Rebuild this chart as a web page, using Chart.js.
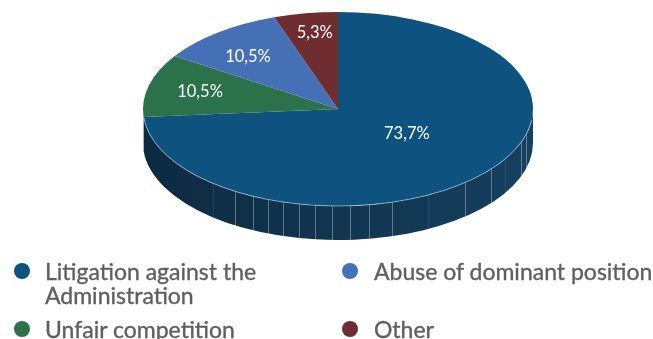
<!DOCTYPE html>
<html>
<head>
  <title>Pie</title>
  <script src="https://cdn.jsdelivr.net/npm/chart.js"></script>
  <style>
    html, body { margin: 0; padding: 0; background: #fff; overflow: hidden; }
    #wrap { position: relative; width: 653px; height: 339px; overflow: hidden; }
    #pie { position: absolute; left: 0; top: 0; }
    #legend {
      position: absolute; left: 14px; top: 259px; width: 639px;
      display: grid; grid-template-columns: 328px 1fr; row-gap: 10px;
      font-family: Lato, sans-serif; font-size: 23px; line-height: 24px; color: #5f5f5f;
      -webkit-text-stroke: 0.35px #5f5f5f;
    }
    .item { display: flex; align-items: flex-start; }
    .dot { width: 16px; height: 16px; border-radius: 50%; margin: 4px 15px 0 0; flex: none; }
    .text { white-space: pre-line; }
    .item:nth-child(even) .text { margin-left: 1px; }
  </style>
</head>
<body>
  <div id="wrap">
    <canvas id="pie" width="653" height="339"></canvas>
    <div id="legend"></div>
  </div>

  <script>
    const categories = ['Litigation against the\nAdministration', 'Unfair competition', 'Abuse of dominant position', 'Other'];
    const shares = [73.7, 10.5, 10.5, 5.3];
    const colors = ['#0e527f', '#2b7149', '#4670b6', '#6f2c31'];

    // how far out each value label sits, as a fraction of the radius
    const labelReachX = [0.48, 0.73, 0.75, 0.72];
    const labelReachY = [0.38, 0.71, 0.68, 0.80];

    // seams on the side wall, degrees either side of straight down
    const seams = [-32, -26, -21, -16.4, -11.4, -6.8, -1.8, 3.5, 9, 16, 40.6, 51.7, 70, 75];
    const faintSeams = [-40, 27.5, 59];

    const pieWidth = 195;
    const wallDepth = 34;

    function stretch(ctx, arc) {
      ctx.translate(arc.x, 0);
      ctx.scale(pieWidth / arc.outerRadius, 1);
      ctx.translate(-arc.x, 0);
    }

    // the side wall under the front half of the pie
    function drawWall(chart) {
      const ctx = chart.ctx;
      const arcs = chart.getDatasetMeta(0).data;
      const first = arcs[0];
      const grad = ctx.createLinearGradient(first.x - pieWidth, 0, first.x + pieWidth, 0);
      grad.addColorStop(0, '#0d2a41');
      grad.addColorStop(0.5, '#123550');
      grad.addColorStop(1, '#15405f');

      arcs.forEach((arc, i) => {
        const from = Math.max(arc.startAngle, 0);
        const to = Math.min(arc.endAngle, Math.PI);
        if (to <= from) return;
        ctx.save();
        stretch(ctx, arc);
        ctx.beginPath();
        ctx.arc(arc.x, arc.y, arc.outerRadius, from, to);
        ctx.arc(arc.x, arc.y + wallDepth, arc.outerRadius, to, from, true);
        ctx.closePath();
        ctx.restore();
        ctx.fillStyle = i === 0 ? grad : '#a9b8ae';
        ctx.fill();
      });

      const seam = (deg, alpha) => {
        const a = Math.PI / 2 - deg * Math.PI / 180;
        const x = first.x + pieWidth * Math.cos(a);
        const y = first.y + first.outerRadius * Math.sin(a);
        ctx.strokeStyle = 'rgba(190,205,220,' + alpha + ')';
        ctx.lineWidth = 1;
        ctx.beginPath();
        ctx.moveTo(Math.round(x) + 0.5, y);
        ctx.lineTo(Math.round(x) + 0.5, y + wallDepth);
        ctx.stroke();
      };
      seams.forEach(d => seam(d, 0.45));
      faintSeams.forEach(d => seam(d, 0.12));
    }

    // thin light rim where the top face meets the wall
    function drawRim(chart) {
      const ctx = chart.ctx;
      const arc = chart.getDatasetMeta(0).data[0];
      ctx.save();
      stretch(ctx, arc);
      ctx.beginPath();
      ctx.arc(arc.x, arc.y, arc.outerRadius, 0.12, 3.06);
      ctx.restore();
      ctx.strokeStyle = 'rgba(200,215,228,0.6)';
      ctx.lineWidth = 1;
      ctx.stroke();
    }

    const tiltedPie = {
      id: 'tiltedPie',
      beforeDatasetsDraw(chart) {
        drawWall(chart);
        chart.ctx.save();
        stretch(chart.ctx, chart.getDatasetMeta(0).data[0]);
      },
      afterDatasetsDraw(chart) {
        chart.ctx.restore();
        drawRim(chart);

        const ctx = chart.ctx;
        ctx.fillStyle = '#ffffff';
        ctx.font = '16.5px Lato, sans-serif';
        ctx.textAlign = 'center';
        ctx.textBaseline = 'middle';
        chart.getDatasetMeta(0).data.forEach((arc, i) => {
          const mid = (arc.startAngle + arc.endAngle) / 2;
          const x = arc.x + pieWidth * labelReachX[i] * Math.cos(mid);
          const y = arc.y + arc.outerRadius * labelReachY[i] * Math.sin(mid);
          ctx.fillText(shares[i].toFixed(1).replace('.', ',') + '%', x, y);
        });
      }
    };

    new Chart(document.getElementById('pie'), {
      type: 'pie',
      data: {
        labels: categories,
        datasets: [{ data: shares, backgroundColor: colors, borderWidth: 0 }]
      },
      options: {
        responsive: false,
        animation: false,
        layout: { padding: { left: 241, right: 218, top: 12, bottom: 133 } },
        plugins: { legend: { display: false }, tooltip: { enabled: false } }
      },
      plugins: [tiltedPie]
    });

    // legend, two columns: left column first two entries, right column the others
    const legend = document.getElementById('legend');
    [0, 2, 1, 3].forEach(i => {
      const item = document.createElement('div');
      item.className = 'item';
      const dot = document.createElement('span');
      dot.className = 'dot';
      dot.style.background = colors[i];
      const text = document.createElement('span');
      text.className = 'text';
      text.textContent = categories[i];
      item.append(dot, text);
      legend.appendChild(item);
    });
  </script>
</body>
</html>
